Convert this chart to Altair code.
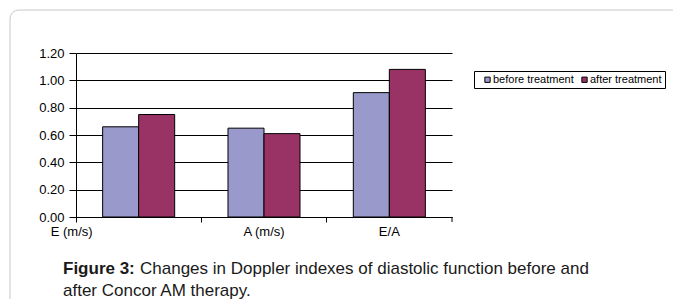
import altair as alt
import pandas as pd

categories = ["E (m/s)", "A (m/s)", "E/A"]
before_treatment = [0.66, 0.65, 0.91]
after_treatment = [0.75, 0.61, 1.08]
series_names = ["before treatment", "after treatment"]
series_colors = ["#9999CC", "#993366"]
y_ticks = [0.0, 0.2, 0.4, 0.6, 0.8, 1.0, 1.2]

rows = []
for c, b, a in zip(categories, before_treatment, after_treatment):
    rows.append({"cat": c, "series": series_names[0], "value": b})
    rows.append({"cat": c, "series": series_names[1], "value": a})
df = pd.DataFrame(rows)

W, H = 376, 164
FONT = "Liberation Sans"
CAP = 17

bars = alt.Chart(df).mark_bar(stroke="black", strokeWidth=1).encode(
    x=alt.X("cat:N", sort=categories,
            scale=alt.Scale(paddingInner=0, paddingOuter=0),
            axis=alt.Axis(title=None, labelAngle=0, bandPosition=0,
                          domainColor="black", tickColor="black", tickSize=5,
                          labelFont=FONT, labelFontSize=13, labelColor="black",
                          labelPadding=3,
                          labelOffset={"condition": {"test": "datum.value == 'E (m/s)'", "value": -67},
                                       "value": 0}
                          )),
    xOffset=alt.XOffset("series:N", sort=series_names,
                        scale=alt.Scale(paddingOuter=0.74, paddingInner=0)),
    y=alt.Y("value:Q", scale=alt.Scale(domain=[0, 1.2], nice=False),
            axis=alt.Axis(title=None, values=y_ticks, format=".2f",
                          grid=True, gridColor="black", gridOpacity=1,
                          domainColor="black", tickColor="black", tickSize=7,
                          labelFont=FONT, labelFontSize=13, labelColor="black",
                          labelPadding=5)),
    color=alt.Color("series:N", sort=series_names,
                    scale=alt.Scale(domain=series_names, range=series_colors),
                    legend=alt.Legend(title=None, orient="none", legendX=398, legendY=18,
                                      direction="horizontal", strokeColor="black",
                                      fillColor="white", padding=3, cornerRadius=0,
                                      symbolType="square", symbolSize=28,
                                      symbolStrokeColor="black", symbolStrokeWidth=1,
                                      symbolOffset=5, labelOffset=0, columnPadding=0,
                                      labelFont=FONT, labelFontSize=11, labelColor="black")),
)

end_tick = alt.Chart(alt.Data(values=[{}])).mark_rule(color="black").encode(
    x=alt.value(W), y=alt.value(H), y2=alt.value(H + 5)
)

frame = alt.Chart(alt.Data(values=[{}])).mark_rect(
    fill=None, fillOpacity=0, stroke="#c8c8c8", strokeWidth=1, cornerRadius=9
).encode(x=alt.value(-66), x2=alt.value(700), y=alt.value(-43), y2=alt.value(400))

caption_bold = alt.Chart(alt.Data(values=[{"t": "Figure 3:"}])).mark_text(
    align="left", baseline="alphabetic", font=FONT, fontSize=CAP, fontWeight="bold", color="#1a1a1a"
).encode(text="t:N", x=alt.value(-13), y=alt.value(221))

caption_1 = alt.Chart(alt.Data(values=[{"t": "Changes in Doppler indexes of diastolic function before and"}])).mark_text(
    align="left", baseline="alphabetic", font=FONT, fontSize=CAP, color="#1a1a1a"
).encode(text="t:N", x=alt.value(64), y=alt.value(221))

caption_2 = alt.Chart(alt.Data(values=[{"t": "after Concor AM therapy."}])).mark_text(
    align="left", baseline="alphabetic", font=FONT, fontSize=CAP, color="#1a1a1a"
).encode(text="t:N", x=alt.value(-13), y=alt.value(243))

chart = alt.layer(frame, bars, end_tick, caption_bold, caption_1, caption_2).properties(
    width=W, height=H,
    autosize=alt.AutoSizeParams(type="none"),
    padding={"left": 68, "top": 45, "right": 221, "bottom": 82},
    background="white",
).configure_view(stroke=None)

chart.save("out.html", embed_options={"renderer": "svg", "actions": False})
